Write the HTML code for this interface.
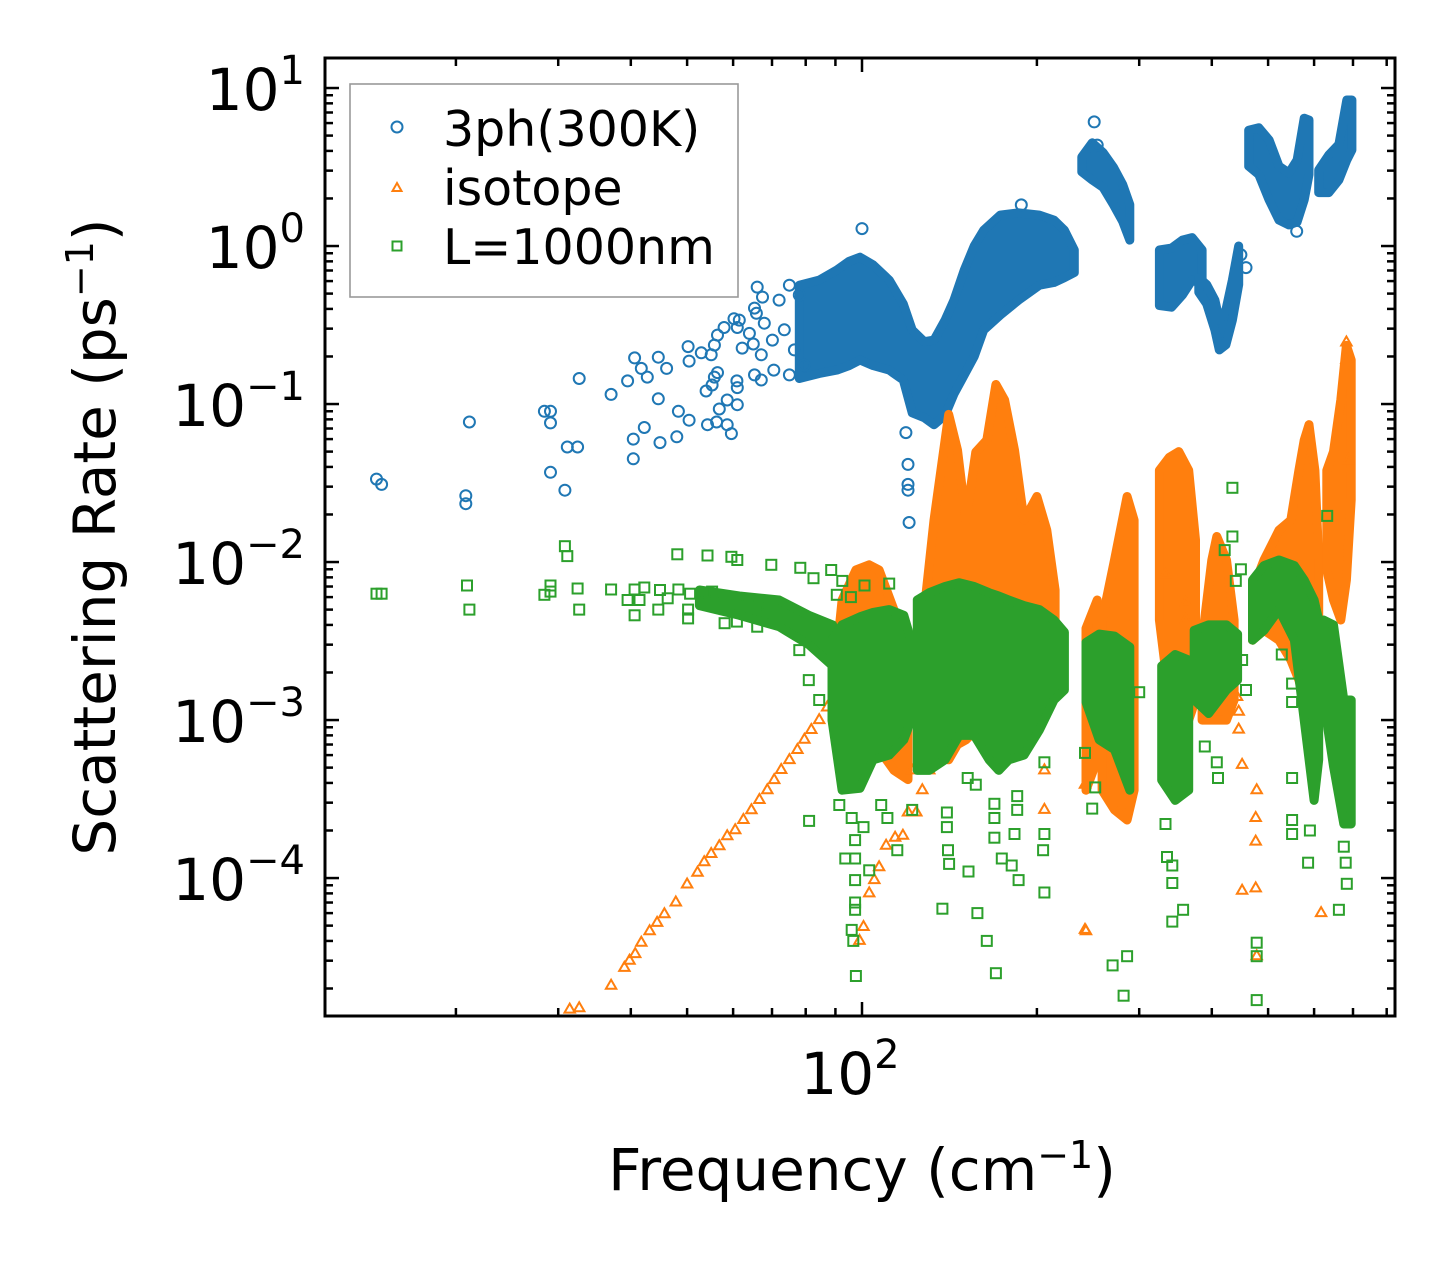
<!DOCTYPE html>
<html><head><meta charset="utf-8"><style>
html,body{margin:0;padding:0;background:#fff;}
svg{display:block;font-family:"DejaVu Sans","Liberation Sans",sans-serif;}
</style></head><body>
<svg id="chart" width="1455" height="1265" viewBox="0 0 1455 1265" xmlns="http://www.w3.org/2000/svg">
<rect x="0" y="0" width="1455" height="1265" fill="#fff"/>
<g id="plot"></g>
<g id="axes"></g>
<g id="legend">
<rect x="350" y="84" width="388" height="213" fill="#fff" fill-opacity="0.8" stroke="#999" stroke-width="1.6"/>
<circle cx="397" cy="127" r="5.5" fill="none" stroke="#1f77b4" stroke-width="2"/>
<text x="443" y="146" font-size="49">3ph(300K)</text>
<path d="M397,183 L401.5,191 L392.5,191 Z" fill="none" stroke="#ff7f0e" stroke-width="2"/>
<text x="443" y="205" font-size="49">isotope</text>
<rect x="392.5" y="241.5" width="9" height="9" fill="none" stroke="#2ca02c" stroke-width="2"/>
<text x="443" y="264" font-size="49">L=1000nm</text>
</g>
<text x="862" y="1190" font-size="58" text-anchor="middle">Frequency (cm<tspan baseline-shift="super" font-size="38">−1</tspan>)</text>
<text transform="translate(115,537) rotate(-90)" font-size="58" text-anchor="middle">Scattering Rate (ps<tspan baseline-shift="super" font-size="38">−1</tspan>)</text>
</svg>
<script>
// ---- data: 3-phonon (blue) ----
const blueF=[14.6,14.9,21.1,20.8,20.8,28.4,29.1,29.1,29.1,30.8,31.1,32.4,32.6,37.0,39.5,40.6,41.7,42.7,44.6,46.1,42.2,40.4,40.4,44.6,44.9,48.0,48.3,50.4,50.2,50.4,52.9,55.0,55.7,56.4,57.9,60.2,61.5,61.0,64.0,65.0,62.2,67.1,56.4,55.7,55.2,53.9,60.9,61.0,58.6,56.8,61.0,54.2,56.2,58.6,59.6,65.3,67.1,66.0,67.4,65.3,65.8,67.9,70.1,72,75,78,73.5,76.5,70.5,75,79.5,100,188,119,120,120,120,120.5,251,560,458,449,254];
const blueR=[0.0335,0.031,0.077,0.0263,0.0234,0.090,0.090,0.076,0.037,0.0285,0.0535,0.0535,0.145,0.115,0.140,0.196,0.168,0.148,0.198,0.168,0.071,0.060,0.045,0.108,0.057,0.062,0.090,0.079,0.231,0.187,0.211,0.205,0.236,0.273,0.305,0.347,0.340,0.305,0.280,0.240,0.226,0.205,0.158,0.148,0.132,0.121,0.140,0.127,0.106,0.093,0.099,0.074,0.077,0.074,0.065,0.153,0.142,0.550,0.475,0.405,0.375,0.325,0.254,0.455,0.565,0.49,0.295,0.22,0.164,0.153,0.176,1.29,1.82,0.066,0.0415,0.031,0.0285,0.0178,6.1,1.24,0.73,0.88,4.35];
// dense clusters: [freq, low, high]
const blueBands=[
 [[78,0.145,0.565],[84.4,0.156,0.609],[90.5,0.164,0.705],[95,0.175,0.80],[99.2,0.19,0.85],[104.5,0.175,0.76],[111.4,0.164,0.609],[117.8,0.142,0.43],[122,0.088,0.294],[128,0.082,0.248],[133,0.074,0.254],[139,0.085,0.34],[144,0.116,0.455],[150,0.153,0.705],[156,0.2,1.0],[162,0.294,1.26],[173,0.366,1.57],[186,0.455,1.62],[202,0.565,1.57],[214,0.588,1.46],[223,0.63,1.26],[232,0.68,0.944]],
 [[239,2.95,3.66],[249,2.62,4.5],[260,2.35,3.9],[271,1.82,3.14],[281,1.43,2.45],[289,1.09,1.83]],
 [[325,0.42,0.944],[341,0.41,0.97],[356,0.49,1.09],[370,0.609,1.13],[385,0.575,0.944]],
 [[380,0.51,0.63],[392,0.43,0.57],[405,0.294,0.455],[412,0.22,0.34],[423,0.237,0.394],[434,0.34,0.61],[445,0.57,1.0]],
 [[463,3.2,5.4],[482,2.83,5.6],[502,1.96,4.69],[522,1.46,3.2],[543,1.36,2.9],[561,1.42,3.5],[577,1.96,6.44],[588,2.83,6.27]],
 [[611,2.18,3.03],[636,2.18,3.77],[662,2.62,4.4],[683,3.5,8.4],[697,4.05,8.4]]
];
// ---- data: isotope (orange) ----
const isoF=[31.4,32.6,37.0,39.0,39.8,40.7,41.7,43.1,44.4,45.7,47.8,50.0,52.1,53.5,55.0,56.8,58.6,60.5,62.5,64.5,66.6,68.7,70.6,72.6,75.0,77.4,79.6,81.8,84.4,87.1,99,100.6,102.9,105,107,110,114,117.6,120,124,127,122,134,130.5,206,206,242,242,333,361,361,445,451,478,476,476,451,476,617,243,478,442,445,682,682,688];
const isoR=[1.47e-5,1.5e-5,2.08e-5,2.7e-5,3.0e-5,3.3e-5,3.9e-5,4.6e-5,5.2e-5,5.9e-5,7.0e-5,9.1e-5,1.08e-4,1.26e-4,1.42e-4,1.59e-4,1.84e-4,2.01e-4,2.33e-4,2.69e-4,3.12e-4,3.6e-4,4.17e-4,4.83e-4,5.58e-4,6.46e-4,7.5e-4,8.65e-4,1.0e-3,1.2e-3,4.0e-5,4.9e-5,8.0e-5,9.7e-5,1.17e-4,1.6e-4,1.8e-4,1.85e-4,2.6e-4,2.6e-4,3.6e-4,4.8e-4,6.0e-4,4.8e-4,2.7e-4,4.8e-4,4.7e-5,3.9e-4,8.3e-3,5.5e-3,4.3e-3,8.7e-4,5.2e-4,3.6e-4,2.4e-4,1.7e-4,8.3e-5,8.6e-5,6.0e-5,4.6e-5,3.2e-5,1.4e-3,1.13e-3,0.245,0.19,0.044];
const isoBands=[
 [[88.8,1.0e-3,1.34e-3],[92.4,8.65e-4,5.75e-3],[97.6,7.5e-4,8.9e-3],[102.9,7.0e-4,9.6e-3],[107,6.5e-4,8.9e-3],[113.5,4.8e-4,4.97e-3],[120,4.2e-4,2.77e-3]],
 [[128,4.83e-4,4.97e-3],[133,5.6e-4,0.0184],[139,6.0e-4,0.0591],[141,5.6e-4,0.086],[146,7.0e-4,0.0511],[151,7.5e-4,0.0184],[157,8.65e-4,0.0497],[164,8.65e-4,0.0591],[170,1.0e-3,0.133],[176,1.0e-3,0.106],[183,1.0e-3,0.0511],[190,1.16e-3,0.0184],[200,1.25e-3,0.026],[208,1.34e-3,0.0159],[215,1.55e-3,6.65e-3]],
 [[243,3.6e-4,3.8e-3],[254,5.6e-4,5.75e-3]],
 [[259,3.6e-4,4.3e-3],[272,2.7e-4,0.0103],[286,2.33e-4,0.026],[294,3.6e-4,0.0184]],
 [[325,4.3e-3,0.038],[338,1.34e-3,0.046],[351,1.0e-3,0.050],[365,1.0e-3,0.038],[375,1.34e-3,0.0138]],
 [[385,1.0e-3,3.2e-3],[400,1.0e-3,0.0103],[408,1.0e-3,0.0145],[424,1.0e-3,0.0103],[437,1.34e-3,4.3e-3]],
 [[470,3.2e-3,6.65e-3],[492,3.7e-3,0.0103],[522,3.2e-3,0.0159],[547,2.4e-3,0.0184],[565,1.79e-3,0.038],[577,1.34e-3,0.059],[588,1.0e-3,0.074],[602,1.0e-3,0.038],[611,1.34e-3,0.0103]],
 [[631,8.9e-3,0.038],[648,5.75e-3,0.050],[667,4.3e-3,0.106],[682,7.7e-3,0.235],[695,0.0247,0.19]]
];
// ---- data: boundary L=1000nm (green) ----
const lenF=[14.6,14.9,20.9,21.1,30.8,31.1,29.1,29.1,28.4,32.4,32.6,37.0,40.6,42.2,44.9,39.5,41.4,40.6,44.6,48.1,48.3,50.6,46.3,50.2,50.2,54.2,59.6,61.0,53.5,55.2,57.3,58.0,61.0,60.9,66.0,66.0,69.8,68.7,78.3,82.5,88.5,92.5,101,111.4,90.5,95.7,78,81,84.4,81.1,91.4,96,100.6,97.3,93.6,97.3,97.3,102.9,97.3,97.3,96,96.6,97.6,107.9,110.6,115,122,137.5,140,140,140.6,141.2,152,157,152.5,158,164,170,169,169,169,174,181,186,185,185,183,206,205,206,206,434,434,421,449,440,632,683,662,586,550,550,590,675,680,410,408,389,458,451,478,478,478,270,286,282,342,357,342,335,342,333,252,249,242,550,550,550,528,300];
const lenR=[6.3e-3,6.3e-3,7.1e-3,5.0e-3,0.0126,0.0109,7.1e-3,6.5e-3,6.2e-3,6.8e-3,5.0e-3,6.7e-3,6.7e-3,6.9e-3,6.65e-3,5.75e-3,5.75e-3,4.6e-3,5.0e-3,0.0112,6.7e-3,6.3e-3,5.9e-3,5.0e-3,4.4e-3,0.011,0.0108,0.0103,6.4e-3,6.5e-3,5.75e-3,4.1e-3,5.75e-3,4.2e-3,5.4e-3,3.9e-3,9.6e-3,4.8e-3,9.2e-3,7.9e-3,8.9e-3,7.6e-3,7.1e-3,7.3e-3,6.2e-3,6.0e-3,2.77e-3,1.79e-3,1.34e-3,2.3e-4,2.9e-4,2.4e-4,2.1e-4,1.74e-4,1.33e-4,1.33e-4,9.7e-5,1.12e-4,7.0e-5,6.3e-5,4.7e-5,4.0e-5,2.4e-5,2.9e-4,2.4e-4,1.5e-4,2.7e-4,6.4e-5,2.6e-4,2.1e-4,1.5e-4,1.23e-4,4.3e-4,3.9e-4,1.1e-4,6.0e-5,4.0e-5,2.5e-5,2.95e-4,2.4e-4,1.8e-4,1.33e-4,1.2e-4,9.7e-5,3.3e-4,2.7e-4,1.9e-4,1.9e-4,1.5e-4,8.1e-5,5.4e-4,0.0295,0.0145,0.0119,9.0e-3,7.6e-3,0.0196,9.2e-5,6.3e-5,1.25e-4,2.33e-4,1.9e-4,2.0e-4,1.58e-4,1.25e-4,4.3e-4,5.4e-4,6.8e-4,1.55e-3,2.4e-3,3.9e-5,3.2e-5,1.69e-5,2.8e-5,3.2e-5,1.8e-5,5.3e-5,6.3e-5,9.3e-5,1.36e-4,1.2e-4,2.2e-4,3.75e-4,2.75e-4,6.2e-4,4.3e-4,1.3e-3,1.7e-3,2.6e-3,1.5e-3];
const lenBands=[
 [[52.5,5.3e-3,6.65e-3],[61.5,4.6e-3,6.1e-3],[72,3.9e-3,5.75e-3],[81,3.0e-3,4.6e-3],[89,2.2e-3,4.0e-3]],
 [[88.8,1.0e-3,3.2e-3],[92.4,3.6e-4,4.0e-3],[99.2,3.7e-4,4.5e-3],[104.5,5.6e-4,4.8e-3],[111.4,6.0e-4,5.0e-3],[118,7.5e-4,4.6e-3],[121.5,1.0e-3,3.2e-3]],
 [[124.5,4.8e-4,5.75e-3],[130.5,4.8e-4,6.4e-3],[139,5.6e-4,7.0e-3],[147,8.0e-4,7.4e-3],[156,8.0e-4,7.0e-3],[165.5,5.6e-4,6.4e-3],[172,4.8e-4,6.1e-3],[179,5.6e-4,5.75e-3],[190,6.0e-4,5.3e-3],[202,8.65e-4,5.0e-3],[214,1.34e-3,4.3e-3],[223,1.55e-3,3.6e-3]],
 [[243,1.3e-3,3.1e-3],[256,7.5e-4,3.5e-3],[272,6.5e-4,3.4e-3],[289,3.6e-4,2.9e-3]],
 [[328,4.17e-4,2.2e-3],[346,3.1e-4,2.6e-3],[365,3.6e-4,2.4e-3]],
 [[373,1.34e-3,3.7e-3],[395,1.1e-3,4.0e-3],[424,1.55e-3,4.0e-3],[443,1.79e-3,3.5e-3]],
 [[470,3.2e-3,7.7e-3],[492,3.7e-3,9.5e-3],[522,5.0e-3,0.0103],[555,3.2e-3,9.5e-3],[577,1.0e-3,7.7e-3],[600,3.1e-4,5.75e-3],[611,5.6e-4,4.3e-3]],
 [[623,1.34e-3,4.3e-3],[648,5.1e-4,4.0e-3],[675,2.2e-4,1.34e-3],[695,2.2e-4,1.34e-3]]
];
const yTickExps=[1,0,-1,-2,-3,-4];
const xTickExps=[2];

// ---- axes ----
const PL=325,PR=1395,PT=58,PB=1016;
const XMIN=1.0757,XMAX=2.9174,YMIN=-4.873,YMAX=1.19;
function xs(f){return PL+(Math.log10(f)-XMIN)/(XMAX-XMIN)*(PR-PL);}
function ys(v){return PB-(Math.log10(v)-YMIN)/(YMAX-YMIN)*(PB-PT);}
const NS='http://www.w3.org/2000/svg';
function mk(tag,attrs,parent){const e=document.createElementNS(NS,tag);for(const k in attrs)e.setAttribute(k,attrs[k]);parent.appendChild(e);return e;}
const plot=document.getElementById('plot');
const axes=document.getElementById('axes');
const clip=mk('clipPath',{id:'pc'},document.getElementById('chart'));
mk('rect',{x:PL,y:PT,width:PR-PL,height:PB-PT},clip);
plot.setAttribute('clip-path','url(#pc)');

function drawBands(bands,color,name){
  bands.forEach((b,i)=>{
    let pts=b.map(d=>xs(d[0]).toFixed(1)+','+ys(d[2]).toFixed(1));
    pts=pts.concat(b.slice().reverse().map(d=>xs(d[0]).toFixed(1)+','+ys(d[1]).toFixed(1)));
    const p=mk('polygon',{points:pts.join(' '),fill:color,stroke:color,'stroke-width':9,'stroke-linejoin':'round'},plot);
    
    
  });
}
function drawPoints(F,R,color,shape,name){
  for(let i=0;i<F.length;i++){
    const x=xs(F[i]),y=ys(R[i]);let e;
    if(shape==='c')e=mk('circle',{cx:x.toFixed(1),cy:y.toFixed(1),r:5.5,fill:'none',stroke:color,'stroke-width':2},plot);
    else if(shape==='t')e=mk('path',{d:`M${x.toFixed(1)},${(y-6).toFixed(1)} l5.2,9 l-10.4,0 z`,fill:'none',stroke:color,'stroke-width':2},plot);
    else e=mk('rect',{x:(x-5).toFixed(1),y:(y-5).toFixed(1),width:10,height:10,fill:'none',stroke:color,'stroke-width':2},plot);
    
    
  }
}
drawBands(blueBands,'#1f77b4','3ph');
drawPoints(blueF,blueR,'#1f77b4','c','3ph');
drawBands(isoBands,'#ff7f0e','isotope');
drawPoints(isoF,isoR,'#ff7f0e','t','isotope');
drawBands(lenBands,'#2ca02c','boundary');
drawPoints(lenF,lenR,'#2ca02c','s','boundary');

// frame
const fr=mk('rect',{x:PL,y:PT,width:PR-PL,height:PB-PT,fill:'none',stroke:'#000','stroke-width':3},axes);


// y ticks
for(let e=-5;e<=1;e++){
  for(let m=1;m<10;m++){
    const v=m*Math.pow(10,e);const lv=Math.log10(v);
    if(lv<YMIN||lv>YMAX)continue;
    const y=ys(v);const L=m===1?14:8;
    const t1=mk('line',{x1:PL,x2:PL+L,y1:y,y2:y,stroke:'#000','stroke-width':2.5},axes);
    
    
    const t2=mk('line',{x1:PR,x2:PR-L,y1:y,y2:y,stroke:'#000','stroke-width':2.5},axes);
    
    
  }
}
yTickExps.forEach(e=>{
  const y=ys(Math.pow(10,e));
  const t=mk('text',{x:305,y:(y+22).toFixed(1),'font-size':58,'text-anchor':'end'},axes);
  
  
  t.appendChild(document.createTextNode('10'));
  const s=mk('tspan',{dy:-26,'font-size':40},t);
  s.textContent=(e<0?'\u2212':'')+Math.abs(e);
});
// x ticks
for(let e=1;e<=2;e++){
  for(let m=1;m<10;m++){
    const f=m*Math.pow(10,e);const lf=Math.log10(f);
    if(lf<XMIN||lf>XMAX)continue;
    const x=xs(f);const L=m===1?14:8;
    const t1=mk('line',{x1:x,x2:x,y1:PB,y2:PB-L,stroke:'#000','stroke-width':2.5},axes);
    
    
    const t2=mk('line',{x1:x,x2:x,y1:PT,y2:PT+L,stroke:'#000','stroke-width':2.5},axes);
    
    
  }
}
xTickExps.forEach(e=>{
  const x=xs(Math.pow(10,e));
  const t=mk('text',{x:(x-12).toFixed(1),y:1094,'font-size':58,'text-anchor':'middle'},axes);
  
  
  t.appendChild(document.createTextNode('10'));
  const s=mk('tspan',{dy:-26,'font-size':40},t);
  s.textContent=String(e);
});
</script>
</body></html>
